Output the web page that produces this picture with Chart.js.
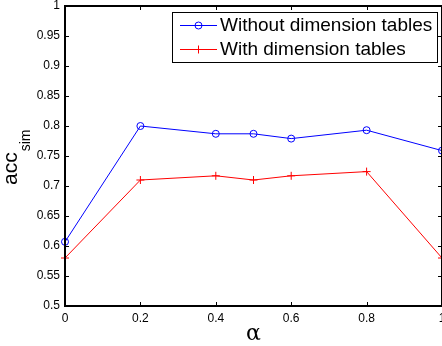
<!DOCTYPE html>
<html>
<head>
<meta charset="utf-8">
<script src="https://cdn.jsdelivr.net/npm/chart.js@4.4.1/dist/chart.umd.min.js"></script>
<style>
  html, body { margin: 0; padding: 0; background: #fff; overflow: hidden; }
  #wrap { width: 442px; height: 346px; overflow: hidden; }
</style>
</head>
<body>
<div id="wrap"><canvas id="chart" width="480" height="346" style="width:480px;height:346px"></canvas></div>
<script>
// values
const alphas = [0, 0.2, 0.4, 0.5, 0.6, 0.8, 1];
const withoutDimTables = [0.607, 0.800, 0.787, 0.787, 0.779, 0.793, 0.759];
const withDimTables = [0.580, 0.710, 0.717, 0.710, 0.717, 0.724, 0.580];
const seriesNames = ['Without dimension tables', 'With dimension tables'];
const xTicks = [0, 0.2, 0.4, 0.6, 0.8, 1];
const yTicks = [0.5, 0.55, 0.6, 0.65, 0.7, 0.75, 0.8, 0.85, 0.9, 0.95, 1];

const FONT = "'Liberation Sans', Arial, Helvetica, sans-serif";

// matlab style box, inward ticks, inner legend and axis labels
const matlabLook = {
    id: 'matlabLook',
    afterDraw(chart) {
        const ctx = chart.ctx;
        const a = chart.chartArea;
        const xs = chart.scales.x, ys = chart.scales.y;
        ctx.save();
        ctx.strokeStyle = '#000';
        ctx.lineWidth = 1;
        const tl = 4;
        ctx.beginPath();
        xTicks.forEach(v => {
            const px = Math.round(xs.getPixelForValue(v)) + 0.5;
            ctx.moveTo(px, a.bottom); ctx.lineTo(px, a.bottom - tl);
            ctx.moveTo(px, a.top); ctx.lineTo(px, a.top + tl);
        });
        yTicks.forEach(v => {
            const py = Math.round(ys.getPixelForValue(v)) + 0.5;
            ctx.moveTo(a.left, py); ctx.lineTo(a.left + tl, py);
            ctx.moveTo(a.right, py); ctx.lineTo(a.right - tl, py);
        });
        ctx.stroke();
        ctx.lineWidth = 2;
        ctx.strokeRect(a.left, a.top, a.right - a.left, a.bottom - a.top);

        // legend
        const lx = 172, ly = 12, lw = 265, lh = 50;
        ctx.fillStyle = '#fff';
        ctx.fillRect(lx, ly, lw, lh);
        ctx.lineWidth = 1;
        ctx.strokeStyle = '#000';
        ctx.strokeRect(lx + 0.5, ly + 0.5, lw, lh);
        chart.data.datasets.forEach((ds, i) => {
            const y = ly + 13 + i * 24;
            ctx.strokeStyle = ds.borderColor;
            ctx.lineWidth = 1;
            ctx.beginPath();
            ctx.moveTo(180, y + 0.5); ctx.lineTo(217, y + 0.5);
            ctx.stroke();
            const mx = 198.5;
            ctx.beginPath();
            if (ds.pointStyle === 'circle') {
                ctx.arc(mx, y + 0.5, 3.5, 0, Math.PI * 2);
            } else {
                ctx.moveTo(mx - 4, y + 0.5); ctx.lineTo(mx + 4, y + 0.5);
                ctx.moveTo(mx, y - 3.5); ctx.lineTo(mx, y + 4.5);
            }
            ctx.stroke();
            ctx.fillStyle = '#000';
            ctx.font = '19px ' + FONT;
            ctx.textAlign = 'left';
            ctx.textBaseline = 'middle';
            ctx.fillText(ds.label, 220, y + 1);
        });

        // y axis label acc_sim
        ctx.fillStyle = '#000';
        ctx.save();
        ctx.translate(17, 185);
        ctx.rotate(-Math.PI / 2);
        ctx.textAlign = 'left';
        ctx.textBaseline = 'alphabetic';
        ctx.font = '21px ' + FONT;
        ctx.fillText('acc', 0, 0);
        const w = ctx.measureText('acc').width;
        ctx.font = '14px ' + FONT;
        ctx.fillText('sim', w + 1, 13);
        ctx.restore();

        // x axis label
        ctx.font = "22px 'DejaVu Serif', 'Liberation Serif', serif";
        ctx.textAlign = 'center';
        ctx.textBaseline = 'alphabetic';
        ctx.fillText('\u03b1', (a.left + a.right) / 2, 340);
        ctx.restore();
    }
};

new Chart(document.getElementById('chart'), {
    type: 'line',
    data: {
        labels: alphas,
        datasets: [
            {
                label: seriesNames[0],
                data: alphas.map((x, i) => ({ x: x, y: withoutDimTables[i] })),
                borderColor: '#0000ff',
                backgroundColor: 'rgba(0,0,0,0)',
                borderWidth: 1,
                pointStyle: 'circle',
                pointRadius: 3.5,
                pointBorderWidth: 1,
                tension: 0,
                clip: false,
            },
            {
                label: seriesNames[1],
                data: alphas.map((x, i) => ({ x: x, y: withDimTables[i] })),
                borderColor: '#ff0000',
                backgroundColor: 'rgba(0,0,0,0)',
                borderWidth: 1,
                pointStyle: 'cross',
                pointRadius: 4,
                pointBorderWidth: 1,
                tension: 0,
                clip: false,
            },
        ],
    },
    options: {
        responsive: false,
        animation: false,
        devicePixelRatio: 1,
        layout: { padding: { left: 0, right: 38, top: 6, bottom: 0 } },
        plugins: {
            legend: { display: false },
            tooltip: { enabled: false },
        },
        scales: {
            x: {
                type: 'linear',
                min: 0,
                max: 1,
                afterBuildTicks: s => { s.ticks = xTicks.map(v => ({ value: v })); },
                afterFit: s => { s.height = 40; s.paddingLeft = 0; s.paddingRight = 0; },
                grid: { display: false, drawTicks: false },
                border: { display: false },
                ticks: {
                    color: '#000',
                    padding: 5,
                    maxRotation: 0,
                    autoSkip: false,
                    font: { family: FONT, size: 12 },
                    callback: v => String(parseFloat(v.toFixed(2))),
                },
            },
            y: {
                min: 0.5,
                max: 1,
                afterBuildTicks: s => { s.ticks = yTicks.map(v => ({ value: v })); },
                afterFit: s => { s.width = 65; s.paddingTop = 0; s.paddingBottom = 0; },
                grid: { display: false, drawTicks: false },
                border: { display: false },
                ticks: {
                    color: '#000',
                    padding: 5,
                    autoSkip: false,
                    font: { family: FONT, size: 12 },
                    callback: v => String(parseFloat(v.toFixed(2))),
                },
            },
        },
    },
    plugins: [matlabLook],
});
</script>
</body>
</html>
